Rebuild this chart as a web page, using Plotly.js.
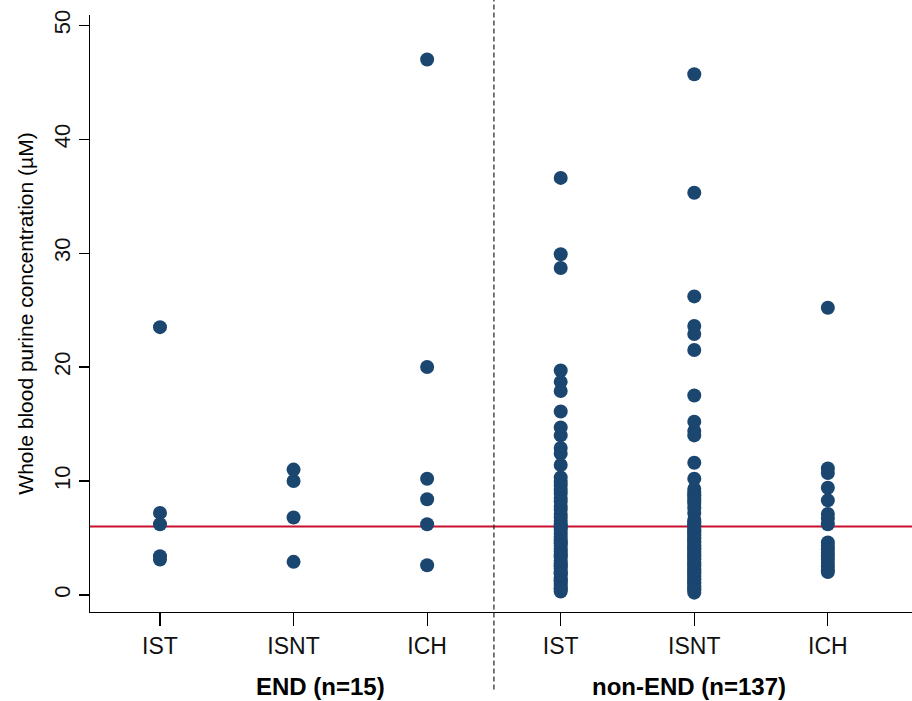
<!DOCTYPE html>
<html>
<head>
<meta charset="utf-8">
<script src="https://cdn.plot.ly/plotly-3.0.1.min.js"></script>
<style>html,body{margin:0;padding:0;background:#fff;}#chart{width:912px;height:701px;}</style>
</head>
<body>
<div id="chart"></div>
<script>
// Category positions and tick labels
const tickPositions = [1, 2, 3, 4, 5, 6];
const tickLabels = ["IST", "ISNT", "ICH", "IST", "ISNT", "ICH"];
const groupLabels = ["END (n=15)", "non-END (n=137)"];
const threshold = 6;

// END group
const endIST = [23.5, 7.2, 6.2, 3.4, 3.1];
const endISNT = [11.0, 10.0, 6.8, 2.9];
const endICH = [47.0, 20.0, 10.2, 8.4, 6.2, 2.6];

// non-END group
const nonIST = [36.6, 29.9, 28.7, 19.7, 18.7, 17.9, 16.1, 14.7, 14.0, 12.9, 12.4, 11.4,
  10.3, 9.9, 9.6, 9.2, 8.9, 8.5, 8.2, 7.8, 7.5, 7.1, 6.8, 6.5, 6.2, 6.0, 5.9, 5.7, 5.4, 5.1,
  4.8, 4.6, 4.5, 4.3, 4.0, 3.8, 3.6, 3.5, 3.3, 3.0, 2.8, 2.6, 2.5, 2.3, 2.0, 1.9, 1.8, 1.5,
  1.3, 1.2, 1.0, 0.8, 0.6, 0.5, 0.3];
const nonISNT = [45.7, 35.3, 26.2, 23.6, 22.9, 21.5, 17.5, 15.2, 14.4, 14.0, 11.6, 10.2,
  9.3, 9.0, 8.8, 8.7, 8.4, 8.2, 8.0, 7.6, 7.2, 6.6, 6.4, 6.3, 6.1, 6.0, 5.8, 5.6, 5.5, 5.3,
  5.2, 5.0, 4.9, 4.7, 4.6, 4.4, 4.3, 4.1, 4.0, 3.8, 3.7, 3.5, 3.4, 3.2, 3.1, 2.9, 2.8, 2.6,
  2.5, 2.3, 2.2, 2.0, 1.9, 1.7, 1.6, 1.4, 1.3, 1.1, 1.0, 0.8, 0.7, 0.5, 0.4, 0.2];
const nonICH = [25.2, 11.1, 10.7, 9.4, 8.3, 7.1, 6.7, 6.2,
  4.6, 4.3, 4.0, 3.7, 3.4, 3.1, 2.8, 2.5, 2.2, 2.0];

const groups = [endIST, endISNT, endICH, nonIST, nonISNT, nonICH];
const xs = [], ys = [];
groups.forEach((g, i) => g.forEach(v => { xs.push(tickPositions[i]); ys.push(v); }));

const trace = {
  type: 'scatter', mode: 'markers', x: xs, y: ys,
  marker: {color: '#1a4670', size: 14, line: {width: 0}},
  hoverinfo: 'y', showlegend: false
};

const layout = {
  width: 912, height: 701,
  margin: {l: 90, r: 0, t: 15, b: 89},
  paper_bgcolor: '#ffffff', plot_bgcolor: '#ffffff',
  font: {family: 'Liberation Sans, Arial, sans-serif', color: '#000'},
  xaxis: {
    range: [0.476, 6.63],
    tickvals: tickPositions, ticktext: tickLabels,
    showgrid: false, zeroline: false,
    showline: true, linecolor: '#000', linewidth: 1.3,
    ticks: 'outside', ticklen: 13, tickcolor: '#000', tickwidth: 1.2,
    tickfont: {family: 'Liberation Sans, Arial', size: 23, color: '#111'}
  },
  yaxis: {
    range: [-1.5, 50.9],
    tickvals: [0, 10, 20, 30, 40, 50],
    tickangle: -90,
    showgrid: false, zeroline: false,
    showline: true, linecolor: '#000', linewidth: 1.3,
    ticks: 'outside', ticklen: 10, tickcolor: '#000', tickwidth: 1.2,
    tickfont: {family: 'Liberation Sans, Arial', size: 22, color: '#111'},
    title: {text: 'Whole blood purine concentration (µM)', font: {family: 'Liberation Sans, Arial', size: 21, color: '#000'}, standoff: 10}
  },
  shapes: [
    {type: 'line', xref: 'x', yref: 'y', x0: 0.476, x1: 6.63, y0: threshold, y1: threshold,
     line: {color: '#c8102e', width: 2}, layer: 'below'},
    {type: 'line', xref: 'x', yref: 'paper', x0: 3.5, x1: 3.5, y0: -0.13, y1: 1.03,
     line: {color: '#222', width: 1.2, dash: '5px,3px'}}
  ],
  annotations: [
    {xref: 'x', yref: 'paper', x: 2.2, y: -0.125, yanchor: 'middle', showarrow: false,
     text: '<b>' + groupLabels[0] + '</b>', font: {family: 'Liberation Sans, Arial', size: 24, color: '#000'}},
    {xref: 'x', yref: 'paper', x: 4.96, y: -0.125, yanchor: 'middle', showarrow: false,
     text: '<b>' + groupLabels[1] + '</b>', font: {family: 'Liberation Sans, Arial', size: 24, color: '#000'}}
  ]
};

Plotly.newPlot('chart', [trace], layout, {displayModeBar: false, staticPlot: true});
</script>
</body>
</html>
